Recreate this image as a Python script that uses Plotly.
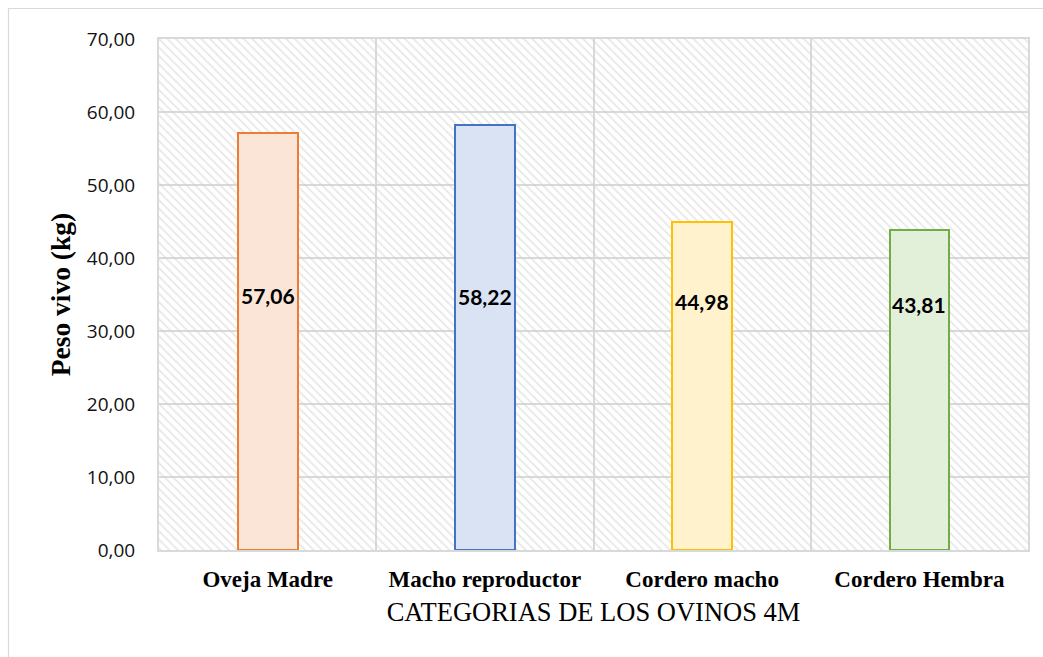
import plotly.graph_objects as go

# Live weight per sheep category
categories = ["Oveja Madre", "Macho reproductor", "Cordero macho", "Cordero Hembra"]
peso_vivo = [57.06, 58.22, 44.98, 43.81]
y_ticks = [0, 10, 20, 30, 40, 50, 60, 70]

# Styling
fill_colors = ["#FBE5D6", "#DAE3F3", "#FFF2CC", "#E2F0D9"]
line_colors = ["#ED7D31", "#4472C4", "#FFC000", "#70AD47"]
label_heights = [34.9, 34.7, 34.0, 33.6]
y_max = 70
grid_color = "#d9d9d9"

positions = list(range(len(categories)))

fig = go.Figure()

# Hatched plot background
fig.add_trace(go.Bar(
    x=[(len(categories) - 1) / 2], y=[y_max], width=[len(categories)],
    marker=dict(color="rgba(0,0,0,0)", line=dict(width=0),
                pattern=dict(shape="\\", fgcolor="#d0d0d0", bgcolor="rgba(0,0,0,0)",
                             size=6, solidity=0.3)),
    hoverinfo="skip", showlegend=False,
))

fig.add_trace(go.Bar(
    x=positions, y=peso_vivo, width=0.275,
    marker=dict(color=fill_colors, line=dict(color=line_colors, width=2)),
    hoverinfo="skip", showlegend=False,
))

for xi, val, ly in zip(positions, peso_vivo, label_heights):
    fig.add_annotation(
        x=xi, y=ly, text="<b>" + f"{val:.2f}".replace(".", ",") + "</b>",
        showarrow=False, font=dict(family="Lato", size=21, color="#000000"),
    )

# Outer chart frame
fig.add_shape(type="rect", xref="paper", yref="paper", layer="below",
              x0=-0.1732, x1=1.05, y0=-0.3, y1=1.0597,
              line=dict(color="#d9d9d9", width=1.2), fillcolor="rgba(0,0,0,0)")

fig.update_layout(
    width=1043, height=657,
    margin=dict(l=159, r=15, t=39, b=107),
    paper_bgcolor="white", plot_bgcolor="white",
    barmode="overlay", bargap=0,
    separators=",.",
    xaxis=dict(
        range=[-0.5, len(categories) - 0.5],
        tickvals=positions, ticktext=["<b>" + c + "</b>" for c in categories], ticks="",
        tickfont=dict(family="Liberation Serif", size=23, color="#000000"),
        ticklabelstandoff=7,
        showgrid=False, zeroline=False,
        showline=True, mirror=True, linecolor=grid_color, linewidth=2,
        minor=dict(tickvals=[i + 0.5 for i in positions[:-1]], showgrid=True,
                   gridcolor=grid_color, gridwidth=1.5, ticks=""),
        title=dict(text="CATEGORIAS DE LOS OVINOS 4M", standoff=12,
                   font=dict(family="Liberation Serif", size=26.5, color="#000000")),
        fixedrange=True,
    ),
    yaxis=dict(
        range=[0, y_max], tickvals=y_ticks, tickformat=".2f",
        tickfont=dict(family="Open Sans", size=19, color="#111111"),
        ticklabelstandoff=18,
        showgrid=True, gridcolor=grid_color, gridwidth=1.5, zeroline=False,
        showline=True, mirror=True, linecolor=grid_color, linewidth=2,
        title=dict(text="<b>Peso vivo (kg)</b>", standoff=8,
                   font=dict(family="Liberation Serif", size=27.5, color="#000000")),
        fixedrange=True,
    ),
)

fig.write_html("out.html")
